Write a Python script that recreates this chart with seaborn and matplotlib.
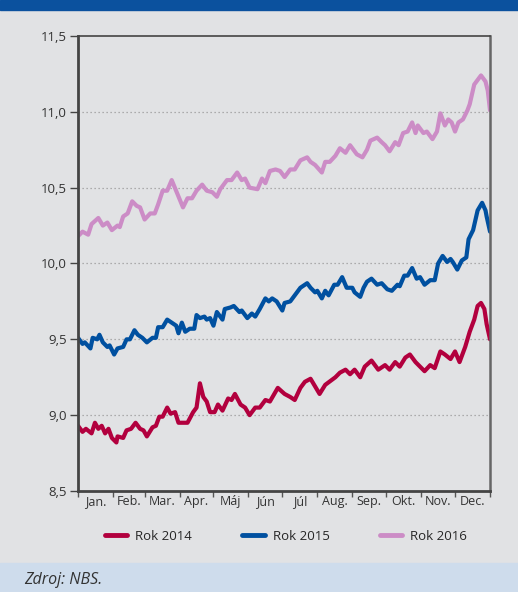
import pandas as pd
import seaborn as sns
import matplotlib.pyplot as plt
from matplotlib.ticker import FuncFormatter, FixedLocator

# dni v roku a hodnoty, odčítané z grafu
days_2014 = [0, 4, 7, 12, 15, 18, 21, 24, 27, 30, 34, 35, 40, 43, 47, 51, 55, 58, 61, 66,
             69, 72, 75, 79, 82, 86, 89, 93, 97, 102, 105, 108, 111, 114, 117, 121, 124, 128,
             133, 136, 139, 144, 148, 152, 157, 161, 166, 170, 177, 183, 188, 192, 197, 201,
             206, 210, 214, 219, 228, 232, 237, 241, 245, 250, 254, 260, 266, 272, 276, 281,
             285, 290, 294, 299, 303, 307, 312, 316, 321, 325, 330, 334, 338, 343, 347, 351,
             354, 357, 360, 362, 365]
vals_2014 = [8.93, 8.89, 8.91, 8.88, 8.95, 8.91, 8.93, 8.88, 8.91, 8.85, 8.82, 8.86, 8.85,
             8.90, 8.91, 8.95, 8.91, 8.90, 8.86, 8.92, 8.93, 8.99, 8.99, 9.05, 9.01, 9.02,
             8.95, 8.95, 8.95, 9.02, 9.05, 9.21, 9.12, 9.09, 9.02, 9.02, 9.07, 9.03, 9.11,
             9.10, 9.14, 9.07, 9.05, 9.00, 9.05, 9.05, 9.10, 9.09, 9.18, 9.14, 9.12, 9.10,
             9.18, 9.22, 9.24, 9.19, 9.14, 9.20, 9.25, 9.28, 9.30, 9.27, 9.30, 9.25, 9.32,
             9.36, 9.30, 9.33, 9.30, 9.35, 9.32, 9.38, 9.40, 9.35, 9.32, 9.29, 9.33, 9.31,
             9.42, 9.40, 9.37, 9.42, 9.35, 9.45, 9.55, 9.63, 9.72, 9.74, 9.70, 9.60, 9.50]

days_2015 = [0, 4, 6, 11, 13, 17, 19, 22, 26, 28, 32, 35, 40, 43, 46, 50, 53, 57, 61, 66,
             69, 71, 75, 79, 83, 87, 89, 92, 95, 99, 103, 105, 108, 112, 114, 117, 120, 123,
             128, 130, 135, 138, 143, 145, 150, 154, 157, 161, 166, 169, 172, 176, 181, 183,
             188, 192, 197, 203, 206, 210, 212, 216, 219, 222, 227, 230, 234, 238, 243, 245,
             250, 253, 256, 260, 265, 269, 274, 278, 283, 285, 289, 292, 296, 300, 303, 307,
             312, 316, 319, 323, 327, 330, 332, 336, 340, 344, 346, 350, 354, 358, 361, 362,
             365]
vals_2015 = [9.51, 9.47, 9.48, 9.44, 9.51, 9.50, 9.53, 9.48, 9.45, 9.46, 9.40, 9.44, 9.45,
             9.50, 9.50, 9.56, 9.53, 9.51, 9.48, 9.51, 9.51, 9.58, 9.58, 9.63, 9.61, 9.59,
             9.54, 9.61, 9.55, 9.57, 9.57, 9.66, 9.64, 9.65, 9.63, 9.64, 9.59, 9.68, 9.63,
             9.70, 9.71, 9.72, 9.68, 9.69, 9.64, 9.67, 9.65, 9.70, 9.77, 9.75, 9.77, 9.75,
             9.69, 9.74, 9.75, 9.79, 9.84, 9.87, 9.84, 9.81, 9.82, 9.77, 9.82, 9.79, 9.86,
             9.86, 9.91, 9.84, 9.84, 9.81, 9.78, 9.84, 9.88, 9.90, 9.86, 9.87, 9.83, 9.82,
             9.86, 9.85, 9.92, 9.92, 9.97, 9.90, 9.91, 9.86, 9.89, 9.89, 10.00, 10.05, 10.01,
             10.03, 10.01, 9.96, 10.02, 10.04, 10.16, 10.22, 10.35, 10.40, 10.35, 10.31, 10.21]

days_2016 = [0, 4, 9, 12, 18, 22, 26, 30, 35, 37, 40, 44, 48, 52, 55, 59, 64, 68, 71, 75,
             79, 83, 88, 93, 97, 101, 105, 110, 114, 119, 123, 126, 132, 136, 141, 145, 148,
             152, 159, 163, 166, 170, 175, 179, 183, 188, 192, 197, 203, 206, 210, 216, 219,
             223, 228, 232, 237, 241, 247, 252, 256, 259, 265, 269, 272, 276, 281, 284, 288,
             292, 296, 299, 301, 306, 309, 314, 318, 321, 325, 328, 331, 334, 337, 341, 345,
             347, 351, 354, 357, 361, 363, 365]
vals_2016 = [10.18, 10.21, 10.19, 10.26, 10.30, 10.25, 10.27, 10.22, 10.25, 10.24, 10.31,
             10.33, 10.41, 10.38, 10.37, 10.29, 10.33, 10.33, 10.39, 10.48, 10.48, 10.55,
             10.46, 10.37, 10.43, 10.43, 10.48, 10.52, 10.48, 10.47, 10.44, 10.49, 10.55,
             10.55, 10.60, 10.55, 10.56, 10.50, 10.49, 10.56, 10.53, 10.61, 10.62, 10.61,
             10.57, 10.62, 10.62, 10.68, 10.70, 10.67, 10.65, 10.60, 10.67, 10.67, 10.71,
             10.76, 10.73, 10.78, 10.72, 10.70, 10.75, 10.81, 10.83, 10.80, 10.78, 10.74,
             10.80, 10.78, 10.86, 10.87, 10.93, 10.86, 10.91, 10.86, 10.87, 10.82, 10.87,
             10.99, 10.91, 10.95, 10.93, 10.87, 10.93, 10.95, 11.01, 11.05, 11.18, 11.21,
             11.24, 11.20, 11.14, 11.01]

months = ["Jan.", "Feb.", "Mar.", "Apr.", "Máj", "Jún", "Júl", "Aug.", "Sep.", "Okt.",
          "Nov.", "Dec."]
month_starts = [0, 31, 59, 90, 120, 151, 181, 212, 243, 273, 304, 334, 365]
series = ["Rok 2014", "Rok 2015", "Rok 2016"]
colors = ["#b2003e", "#0050a0", "#cc8cc6"]

df = pd.concat([
    pd.DataFrame({"den": days_2014, "hodnota": vals_2014, "rok": series[0]}),
    pd.DataFrame({"den": days_2015, "hodnota": vals_2015, "rok": series[1]}),
    pd.DataFrame({"den": days_2016, "hodnota": vals_2016, "rok": series[2]}),
])

sns.set_style("ticks")
plt.rcParams["font.family"] = ["Open Sans", "DejaVu Sans"]
bg = "#e1e2e4"

fig = plt.figure(figsize=(5.18, 5.92), dpi=100, facecolor=bg)
ax = fig.add_axes([0.1506, 0.1706, 0.7954, 0.7686])
ax.set_facecolor(bg)

sns.lineplot(data=df, x="den", y="hodnota", hue="rok", palette=colors, linewidth=3,
             ax=ax, legend=False, solid_capstyle="round")

ax.set_xlim(0, 365)
ax.set_ylim(8.5, 11.5)
ax.set_yticks([8.5, 9.0, 9.5, 10.0, 10.5, 11.0, 11.5])
ax.yaxis.set_major_formatter(FuncFormatter(lambda v, p: f"{v:.1f}".replace(".", ",")))
for v in [9.0, 9.5, 10.0, 10.5, 11.0]:
    ax.axhline(v, color="#9a9a9a", lw=0.9, ls=(0, (1, 2.2)), zorder=0)

ax.xaxis.set_major_locator(FixedLocator(month_starts))
ax.xaxis.set_major_formatter(FuncFormatter(lambda v, p: ""))
mids = [(a + b) / 2 for a, b in zip(month_starts[:-1], month_starts[1:])]
ax.xaxis.set_minor_locator(FixedLocator(mids))
ax.set_xticklabels(months, minor=True)
ax.tick_params(axis="x", which="minor", length=0, labelsize=9, colors="#333333", pad=3)
ax.tick_params(axis="x", which="major", length=4, width=1, color="#555555")
ax.tick_params(axis="y", length=6, width=1, color="#444444", labelsize=9.5,
               labelcolor="#333333", pad=2)
ax.set_xlabel("")
ax.set_ylabel("")

for side in ["left", "bottom"]:
    ax.spines[side].set_linewidth(2)
    ax.spines[side].set_color("#444444")
ax.spines["top"].set_linewidth(1.2)
ax.spines["top"].set_color("#444444")
ax.spines["right"].set_linewidth(1.8)
ax.spines["right"].set_color("#666666")

handles = [plt.Line2D([], [], color=c, lw=3.5, solid_capstyle="round") for c in colors]
fig.legend(handles, series, loc="center", bbox_to_anchor=(0.552, 0.094), ncol=3,
           frameon=False, fontsize=9.5, handlelength=1.7, columnspacing=3.8,
           handletextpad=0.6)

# pásy hore a dole
fig.patches.append(plt.Rectangle((0, 1 - 10 / 592), 1, 10 / 592, transform=fig.transFigure,
                                 color="#0b519e", zorder=0))
fig.patches.append(plt.Rectangle((0, 0), 1, 29 / 592, transform=fig.transFigure,
                                 color="#cedcec", zorder=0))
fig.text(24 / 518, 12 / 592, "Zdroj: NBS.", fontsize=11.5, style="italic",
         color="#333333", va="center")

fig.savefig("out.png", dpi=100, facecolor=bg)
